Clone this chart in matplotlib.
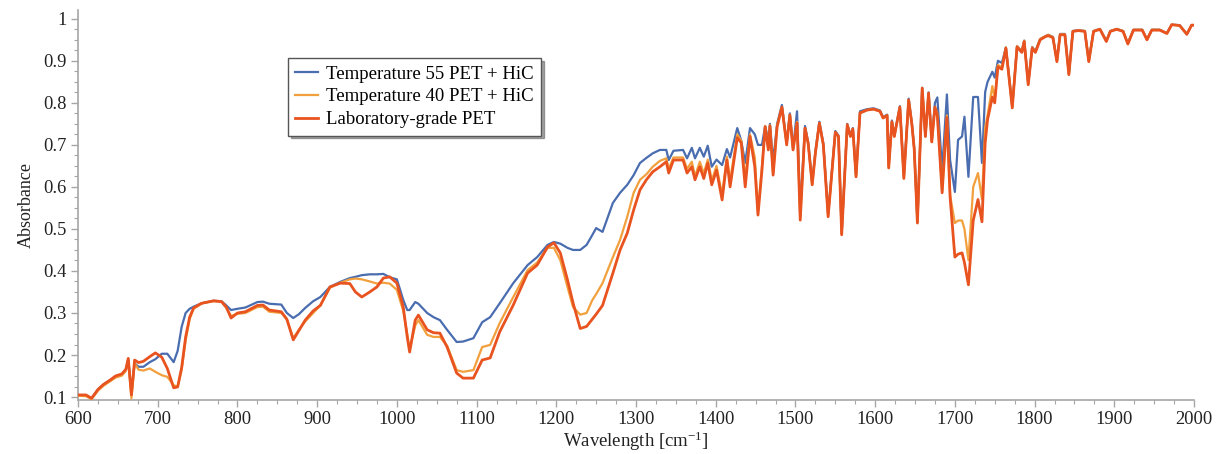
import matplotlib
matplotlib.use("Agg")
import matplotlib.pyplot as plt
from matplotlib.ticker import MultipleLocator

plt.rcParams['font.family'] = ['Liberation Serif', 'DejaVu Serif']
plt.rcParams['mathtext.fontset'] = 'custom'
plt.rcParams['mathtext.rm'] = 'Liberation Serif'
plt.rcParams['mathtext.default'] = 'regular'

wavelength = [600, 610, 617, 625, 632, 640, 647, 655, 660, 663, 667, 671, 676, 682, 690, 697, 705, 712, 720, 725,
              730, 735, 740, 745, 755, 770, 780, 786, 792, 800, 810, 825, 832, 840, 855, 862, 870, 877, 885, 895,
              904, 916, 929, 941, 948, 956, 966, 975, 983, 991, 1000, 1008, 1013, 1016, 1023, 1027, 1038, 1046, 1054, 1063,
              1075, 1083, 1096, 1107, 1117, 1129, 1146, 1164, 1176, 1189, 1197, 1205, 1214, 1221, 1230, 1238, 1245, 1250, 1258, 1271,
              1280, 1289, 1297, 1305, 1313, 1321, 1330, 1338, 1341, 1347, 1359, 1364, 1370, 1374, 1380, 1385, 1390, 1395, 1401, 1408,
              1414, 1418, 1427, 1432, 1437, 1443, 1449, 1453, 1458, 1462, 1466, 1468, 1472, 1477, 1483, 1489, 1493, 1497, 1502, 1506,
              1512, 1516, 1521, 1525, 1530, 1535, 1541, 1550, 1554, 1558, 1565, 1569, 1572, 1576, 1581, 1590, 1598, 1606, 1610, 1615,
              1617, 1621, 1624, 1627, 1631, 1636, 1642, 1646, 1649, 1653, 1659, 1663, 1667, 1671, 1675, 1678, 1684, 1690, 1694, 1700,
              1704, 1709, 1712, 1717, 1723, 1729, 1734, 1738, 1741, 1747, 1750, 1754, 1759, 1764, 1772, 1778, 1784, 1787, 1792, 1797,
              1801, 1807, 1813, 1817, 1823, 1828, 1832, 1838, 1843, 1848, 1855, 1863, 1868, 1874, 1882, 1890, 1895, 1903, 1911, 1917,
              1924, 1935, 1941, 1947, 1957, 1966, 1972, 1982, 1991, 1997, 2000]

lab_pet = [.105, .105, .097, .118, .130, .140, .150, .155, .166, .192, .105, .188, .182, .185, .196, .205, .195, .168, .122, .124,
           .170, .243, .290, .312, .323, .329, .327, .314, .288, .300, .303, .318, .319, .307, .303, .285, .236, .258, .283, .305,
           .318, .362, .371, .370, .350, .338, .350, .362, .383, .386, .371, .314, .243, .207, .283, .295, .260, .253, .252, .219,
           .157, .145, .145, .188, .193, .255, .319, .395, .414, .457, .467, .443, .379, .324, .263, .268, .285, .297, .318, .395,
           .450, .490, .545, .593, .617, .636, .648, .660, .633, .664, .664, .633, .648, .617, .648, .620, .657, .605, .640, .569,
           .664, .600, .717, .705, .600, .720, .648, .533, .640, .743, .688, .745, .628, .743, .790, .700, .771, .688, .752, .521,
           .740, .703, .605, .680, .752, .700, .529, .730, .720, .486, .748, .720, .738, .624, .776, .783, .785, .780, .764, .770,
           .645, .755, .720, .750, .790, .620, .807, .750, .690, .514, .835, .720, .823, .707, .790, .770, .586, .765, .576, .433,
           .440, .443, .420, .367, .520, .570, .517, .705, .760, .814, .800, .886, .880, .930, .788, .933, .920, .946, .843, .930,
           .920, .950, .957, .960, .955, .898, .962, .962, .867, .970, .972, .970, .898, .970, .975, .946, .970, .975, .970, .940,
           .973, .973, .950, .973, .973, .965, .986, .984, .963, .985, .985]

temp40 = [.103, .102, .095, .115, .127, .137, .146, .151, .162, .188, .097, .180, .165, .163, .168, .160, .152, .148, .128, .125,
          .165, .235, .285, .310, .323, .328, .327, .312, .293, .298, .300, .314, .315, .303, .300, .285, .240, .260, .280, .300,
          .318, .360, .372, .380, .382, .380, .375, .370, .372, .370, .355, .305, .250, .213, .270, .283, .248, .243, .243, .222,
          .164, .160, .164, .219, .224, .276, .338, .402, .420, .455, .455, .426, .362, .314, .296, .300, .330, .345, .371, .433,
          .474, .529, .586, .617, .630, .648, .662, .668, .643, .670, .670, .643, .660, .625, .660, .632, .665, .615, .650, .581,
          .672, .615, .725, .710, .620, .725, .670, .540, .650, .745, .692, .747, .632, .745, .790, .702, .772, .690, .755, .525,
          .740, .703, .605, .680, .752, .700, .530, .730, .720, .488, .748, .720, .738, .626, .776, .783, .785, .780, .764, .770,
          .647, .755, .720, .750, .790, .622, .807, .750, .690, .516, .835, .720, .823, .707, .790, .775, .590, .770, .580, .514,
          .520, .520, .500, .426, .600, .633, .570, .740, .770, .840, .810, .890, .885, .932, .790, .935, .922, .948, .845, .932,
          .922, .952, .958, .962, .956, .900, .963, .963, .868, .971, .972, .971, .899, .971, .976, .947, .971, .976, .971, .941,
          .974, .974, .951, .974, .974, .966, .986, .984, .964, .985, .985]

temp55 = [.105, .103, .097, .118, .130, .140, .148, .153, .165, .190, .110, .180, .172, .172, .183, .190, .203, .203, .183, .210,
          .267, .300, .310, .315, .323, .329, .328, .318, .307, .310, .313, .326, .327, .322, .320, .300, .288, .297, .312, .328,
          .338, .362, .374, .383, .386, .390, .392, .392, .393, .385, .380, .331, .307, .307, .326, .322, .300, .290, .283, .260,
          .231, .232, .240, .278, .290, .323, .371, .414, .433, .462, .469, .465, .455, .450, .450, .462, .485, .502, .493, .562,
          .586, .605, .628, .657, .669, .680, .688, .688, .664, .686, .688, .668, .693, .668, .693, .672, .698, .648, .665, .652,
          .690, .670, .740, .710, .657, .740, .725, .700, .700, .745, .710, .750, .660, .750, .795, .705, .775, .692, .780, .540,
          .745, .706, .610, .684, .755, .703, .535, .733, .722, .490, .750, .722, .740, .628, .780, .785, .787, .782, .766, .772,
          .650, .758, .722, .752, .792, .625, .810, .752, .692, .518, .836, .722, .825, .710, .800, .813, .640, .820, .664, .588,
          .712, .720, .767, .624, .814, .814, .657, .826, .850, .874, .860, .900, .895, .932, .792, .935, .923, .948, .846, .933,
          .923, .952, .958, .962, .957, .900, .964, .964, .870, .971, .973, .971, .900, .971, .976, .948, .971, .976, .971, .942,
          .974, .974, .951, .974, .974, .966, .986, .985, .964, .985, .985]

series_labels = ["Temperature 55 PET + HiC", "Temperature 40 PET + HiC", "Laboratory-grade PET"]
colors = ["#4a6db0", "#f2a03d", "#e8531f"]

fig = plt.figure(figsize=(12.21, 4.54), dpi=100)
ax = fig.add_axes([0.0639, 0.119, 0.914, 0.859])

l1, = ax.plot(wavelength, temp55, color=colors[0], lw=1.6, zorder=2)
l2, = ax.plot(wavelength, temp40, color=colors[1], lw=1.6, zorder=3)
l3, = ax.plot(wavelength, lab_pet, color=colors[2], lw=2.0, zorder=4)

ax.set_xlim(600, 2000)
ax.set_ylim(0.093, 1.021)
ax.xaxis.set_major_locator(MultipleLocator(100))
ax.xaxis.set_minor_locator(MultipleLocator(25))
ax.yaxis.set_minor_locator(MultipleLocator(0.025))
ax.set_yticks([0.1, 0.2, 0.3, 0.4, 0.5, 0.6, 0.7, 0.8, 0.9, 1.0])
ax.set_yticklabels(["0.1", "0.2", "0.3", "0.4", "0.5", "0.6", "0.7", "0.8", "0.9", "1"])

for s in ["top", "right"]:
    ax.spines[s].set_visible(False)
for s in ["left", "bottom"]:
    ax.spines[s].set_color("#a6a6a6")
    ax.spines[s].set_linewidth(1.2)

ax.tick_params(axis="both", which="major", direction="out", length=5, width=1, color="#a6a6a6",
               labelsize=13.3, labelcolor="#222222", pad=3)
ax.tick_params(axis="both", which="minor", direction="out", length=3, width=0.8, color="#a6a6a6")

ax.set_xlabel("Wavelength [cm$^{-1}$]", fontsize=13.5, color="#222222", labelpad=1)
ax.set_ylabel("Absorbance", fontsize=13, color="#222222", labelpad=6)

leg = ax.legend([l1, l2, l3], series_labels, loc="upper left", bbox_to_anchor=(0.188, 0.877),
                borderaxespad=0, frameon=True, fancybox=False, shadow=True, fontsize=13.5,
                handlelength=1.2, handletextpad=0.45, borderpad=0.4, labelspacing=0.3)
leg.get_frame().set_edgecolor("#555555")
leg.get_frame().set_linewidth(1.0)

fig.savefig("out.png", dpi=100)
